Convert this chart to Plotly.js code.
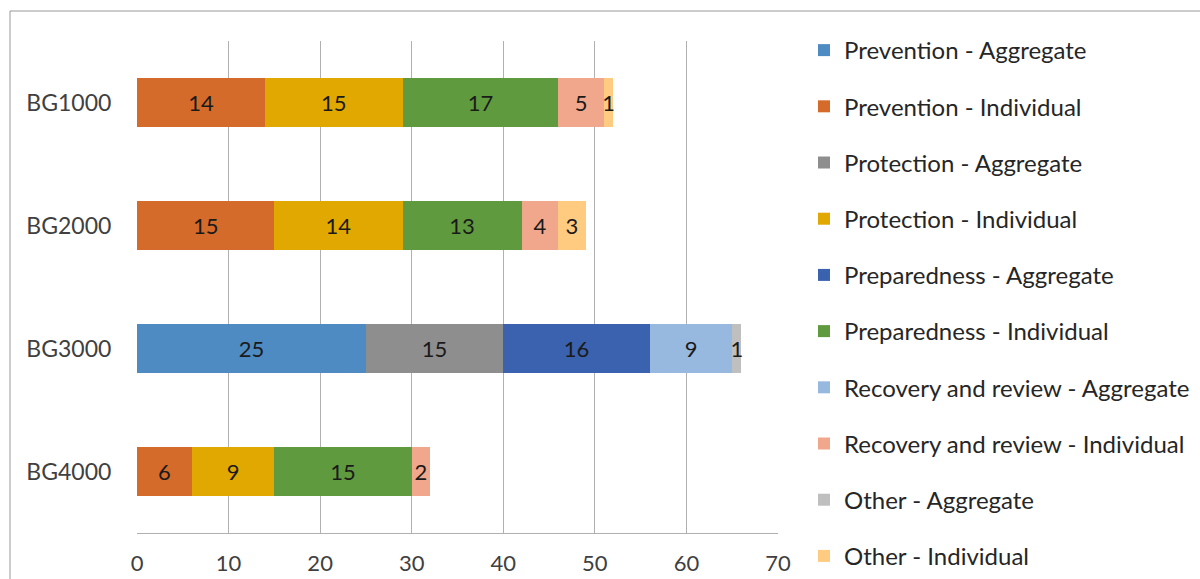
<!DOCTYPE html>
<html>
<head>
<meta charset="utf-8">
<script src="https://cdn.plot.ly/plotly-3.0.1.min.js"></script>
<style>
html,body{margin:0;padding:0;background:#fff;}
#chart{width:1200px;height:579px;}
</style>
</head>
<body>
<div id="chart"></div>
<script>
const categories = ["BG1000", "BG2000", "BG3000", "BG4000"];

const seriesNames = [
  "Prevention - Aggregate",
  "Prevention - Individual",
  "Protection - Aggregate",
  "Protection - Individual",
  "Preparedness - Aggregate",
  "Preparedness - Individual",
  "Recovery and review - Aggregate",
  "Recovery and review - Individual",
  "Other - Aggregate",
  "Other - Individual"
];

const preventionAggregate     = [null, null, 25, null];
const preventionIndividual    = [14, 15, null, 6];
const protectionAggregate     = [null, null, 15, null];
const protectionIndividual    = [15, 14, null, 9];
const preparednessAggregate   = [null, null, 16, null];
const preparednessIndividual  = [17, 13, null, 15];
const recoveryAggregate       = [null, null, 9, null];
const recoveryIndividual      = [5, 4, null, 2];
const otherAggregate          = [null, null, 1, null];
const otherIndividual         = [1, 3, null, null];

const seriesValues = [
  preventionAggregate, preventionIndividual,
  protectionAggregate, protectionIndividual,
  preparednessAggregate, preparednessIndividual,
  recoveryAggregate, recoveryIndividual,
  otherAggregate, otherIndividual
];

const seriesColors = [
  "#4E8BC2", "#D46B2B", "#8E8E8E", "#E0A800", "#3B62AE",
  "#609A3F", "#97B9E0", "#F0A78B", "#BFBFBF", "#FFCB80"
];

const xTicks = [0, 10, 20, 30, 40, 50, 60, 70];

const FONT = "Lato, 'Open Sans', sans-serif";

const traces = seriesNames.map((name, i) => ({
  type: "bar",
  orientation: "h",
  name: name,
  y: categories,
  x: seriesValues[i],
  text: seriesValues[i].map(v => v === null ? "" : String(v)),
  textposition: "inside",
  insidetextanchor: "middle",
  textangle: 0,
  constraintext: "none",
  textfont: {family: FONT, size: 22, color: "#1a1a1a"},
  marker: {color: seriesColors[i], line: {width: 0}},
  legendgroup: "g" + i,
  hoverinfo: "x+name"
}));

const layout = {
  width: 1200,
  height: 579,
  margin: {l: 137, r: 422, t: 41, b: 46, autoexpand: false},
  paper_bgcolor: "#ffffff",
  plot_bgcolor: "#ffffff",
  barmode: "stack",
  bargap: 0.6,
  font: {family: FONT, size: 22, color: "#404040"},
  showlegend: true,
  legend: {
    x: 1.0406, xanchor: "left",
    y: 1.0264, yanchor: "top",
    traceorder: "grouped",
    tracegroupgap: 22,
    maxheight: 2000,
    font: {family: FONT, size: 24, color: "#262626"},
    itemwidth: 30,
    bgcolor: "rgba(0,0,0,0)"
  },
  xaxis: {
    range: [0, 70],
    tickvals: xTicks,
    ticktext: xTicks.map(String),
    showgrid: true,
    gridcolor: "#b0b0b0",
    gridwidth: 1,
    zeroline: false,
    showline: true,
    linecolor: "#b0b0b0",
    linewidth: 1,
    ticks: "outside",
    ticklen: 11,
    tickcolor: "rgba(0,0,0,0)",
    tickfont: {family: FONT, size: 22, color: "#404040"},
    fixedrange: true
  },
  yaxis: {
    autorange: "reversed",
    showgrid: false,
    zeroline: false,
    showline: false,
    ticks: "outside",
    ticklen: 20,
    tickcolor: "rgba(0,0,0,0)",
    tickfont: {family: FONT, size: 23, color: "#404040"},
    fixedrange: true
  },
  shapes: [{
    type: "rect",
    xref: "paper", yref: "paper",
    x0: -127/641, x1: 1.7,
    y0: -0.2, y1: (533-11)/492,
    line: {color: "#999999", width: 1},
    fillcolor: "rgba(0,0,0,0)",
    layer: "below"
  }]
};

Plotly.newPlot("chart", traces, layout, {displayModeBar: false, staticPlot: true});
</script>
</body>
</html>
